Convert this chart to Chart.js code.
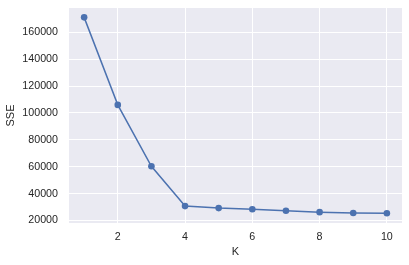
<!DOCTYPE html>
<html>
<head>
<meta charset="utf-8">
<script src="https://cdn.jsdelivr.net/npm/chart.js@4/dist/chart.umd.min.js"></script>
<style>
html,body{margin:0;padding:0;background:#fff;}
#wrap{width:409px;height:265px;position:relative;}
</style>
</head>
<body>
<div id="wrap"><canvas id="c" width="409" height="265"></canvas></div>
<script>
const kValues = [1, 2, 3, 4, 5, 6, 7, 8, 9, 10];
const sseValues = [171100, 106000, 60300, 30700, 29200, 28400, 27200, 26200, 25600, 25400];
const xTicks = [2, 4, 6, 8, 10];
const yTicks = [20000, 40000, 60000, 80000, 100000, 120000, 140000, 160000];

const plotBg = {
  id: 'plotBg',
  beforeDraw(chart) {
    const {ctx, chartArea: a} = chart;
    ctx.save();
    ctx.fillStyle = '#EAEAF2';
    ctx.fillRect(a.left, a.top, a.right - a.left, a.bottom - a.top);
    ctx.restore();
  }
};

const tickFont = {family: '"Liberation Sans", Arial, sans-serif', size: 10.7};
const titleFont = {family: '"Liberation Sans", Arial, sans-serif', size: 11};

new Chart(document.getElementById('c'), {
  type: 'line',
  data: {
    datasets: [{
      data: kValues.map((k, i) => ({x: k, y: sseValues[i]})),
      borderColor: '#4C72B0',
      backgroundColor: '#4C72B0',
      borderWidth: 1.5,
      pointRadius: 3.3,
      pointBorderWidth: 0,
      pointBackgroundColor: '#4C72B0',
      tension: 0,
      fill: false
    }]
  },
  options: {
    responsive: false,
    animation: false,
    devicePixelRatio: 1,
    layout: {padding: {top: 8, right: 7, left: 0, bottom: 0}},
    plugins: {legend: {display: false}, tooltip: {enabled: false}},
    scales: {
      x: {
        type: 'linear',
        min: 0.55,
        max: 10.45,
        afterBuildTicks(s) { s.ticks = xTicks.map(v => ({value: v})); },
        afterFit(s) { s.height = 42; s.paddingLeft = 0; s.paddingRight = 0; },
        grid: {color: '#ffffff', lineWidth: 1, drawTicks: false},
        border: {display: false},
        ticks: {color: '#262626', font: tickFont, padding: 8, maxRotation: 0,
          callback: v => String(v)},
        title: {display: true, text: 'K', color: '#262626', font: titleFont, padding: {top: 0, bottom: 6.7}}
      },
      y: {
        type: 'linear',
        min: 18130,
        max: 178070,
        afterBuildTicks(s) { s.ticks = yTicks.map(v => ({value: v})); },
        afterFit(s) { s.width = 69; s.paddingTop = 0; s.paddingBottom = 0; },
        grid: {color: '#ffffff', lineWidth: 1, drawTicks: false},
        border: {display: false},
        ticks: {color: '#262626', font: tickFont, padding: 11,
          callback: v => String(v)},
        title: {display: true, text: 'SSE', color: '#262626', font: titleFont, padding: {top: 4.4, bottom: 0}}
      }
    }
  },
  plugins: [plotBg]
});
</script>
</body>
</html>
